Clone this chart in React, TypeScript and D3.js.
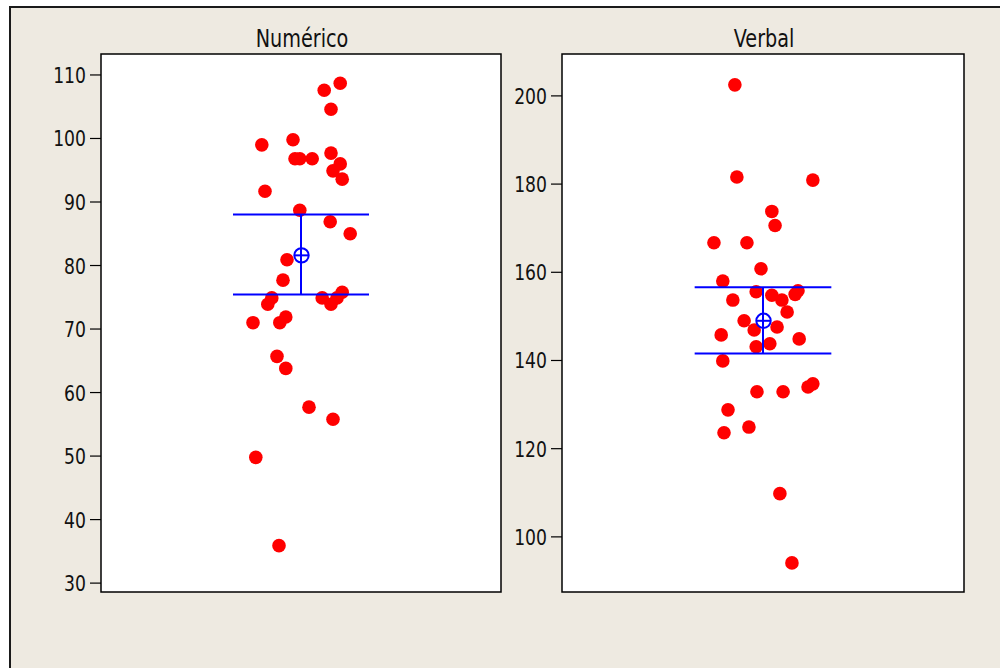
import React, { useEffect, useRef } from 'react';
import * as d3 from 'd3';

// Individual value plot with 95% CI for the mean (Minitab style)
const panelTitles = ['Numérico', 'Verbal'];

const numericoValues = [
  108.7, 107.6, 104.6, 99.0, 99.8, 97.7, 96.8, 96.8, 96.8, 96.0, 94.9,
  93.6, 91.7, 88.7, 86.9, 85.0, 80.9, 77.7, 75.8, 74.9, 73.9, 74.9,
  74.9, 73.9, 71.9, 71.0, 71.0, 65.7, 63.8, 57.7, 55.8, 49.8, 35.9,
];
const numericoJitter = [
  0.098, 0.058, 0.075, -0.098, -0.02, 0.075, -0.015, -0.003, 0.028, 0.098, 0.08,
  0.103, -0.09, -0.003, 0.073, 0.123, -0.035, -0.045, 0.103, -0.073, -0.083, 0.053,
  0.09, 0.075, -0.038, -0.053, -0.12, -0.06, -0.038, 0.02, 0.08, -0.113, -0.055,
];

const verbalValues = [
  202.5, 181.6, 180.9, 173.8, 170.6, 166.7, 166.7, 160.8, 158.0, 155.6, 155.8,
  155.0, 153.7, 154.8, 153.7, 151.0, 149.0, 146.9, 147.6, 145.8, 144.9, 143.1,
  143.8, 139.9, 132.9, 132.9, 134.0, 134.7, 128.8, 123.6, 124.9, 109.8, 94.1,
];
const verbalJitter = [
  -0.07, -0.065, 0.124, 0.022, 0.03, -0.122, -0.04, -0.005, -0.1, -0.017, 0.087,
  0.08, -0.075, 0.022, 0.047, 0.06, -0.047, -0.022, 0.035, -0.104, 0.09, -0.017,
  0.017, -0.1, -0.015, 0.05, 0.112, 0.124, -0.087, -0.097, -0.035, 0.042, 0.072,
];

const numericoTicks = [30, 40, 50, 60, 70, 80, 90, 100, 110];
const verbalTicks = [100, 120, 140, 160, 180, 200];

const numericoDomain = [28.6, 113.3];
const verbalDomain = [87.5, 209.5];

// mean, lower, upper of the 95% CI
const numericoInterval = [81.6, 75.45, 88.05];
const verbalInterval = [149.0, 141.6, 156.6];

const App = () => {
  const ref = useRef<SVGSVGElement>(null);

  useEffect(() => {
    if (!ref.current) return;
    const svg = d3.select(ref.current);
    svg.selectAll('*').remove();

    const W = 1000;
    const H = 668;
    const top = 54;
    const bottom = 592;
    const font = '"DejaVu Sans", Verdana, sans-serif';
    const squeeze = 0.8;

    // beige background frame
    svg.append('rect').attr('x', 0).attr('y', 0).attr('width', W).attr('height', H).attr('fill', '#ffffff');
    svg.append('rect')
      .attr('x', 10).attr('y', 7).attr('width', W + 20).attr('height', H + 20)
      .attr('fill', '#eeeae1').attr('stroke', '#1a1a1a').attr('stroke-width', 2);

    const panels = [
      { left: 101, right: 501, values: numericoValues, jitter: numericoJitter, ticks: numericoTicks, domain: numericoDomain, ci: numericoInterval },
      { left: 562, right: 964, values: verbalValues, jitter: verbalJitter, ticks: verbalTicks, domain: verbalDomain, ci: verbalInterval },
    ];

    panels.forEach((p, k) => {
      const x = d3.scaleLinear().domain([0.5, 1.5]).range([p.left, p.right]);
      const y = d3.scaleLinear().domain(p.domain).range([bottom, top]);
      const g = svg.append('g');

      g.append('rect')
        .attr('x', p.left).attr('y', top)
        .attr('width', p.right - p.left).attr('height', bottom - top)
        .attr('fill', '#ffffff').attr('stroke', '#000').attr('stroke-width', 1.5);

      // title
      g.append('text')
        .attr('transform', `translate(${x(1) + 1},46.5) scale(${squeeze},1)`)
        .attr('text-anchor', 'middle')
        .attr('fill', '#111')
        .style('font-family', font)
        .style('font-size', '24px')
        .text(panelTitles[k]);

      // y axis ticks
      p.ticks.forEach((t) => {
        g.append('line')
          .attr('x1', p.left - 11).attr('x2', p.left)
          .attr('y1', y(t)).attr('y2', y(t))
          .attr('stroke', '#000').attr('stroke-width', 1.2);
        g.append('text')
          .attr('transform', `translate(${p.left - 15},${y(t) + 8}) scale(${squeeze},1)`)
          .attr('text-anchor', 'end')
          .attr('fill', '#111')
          .style('font-family', font)
          .style('font-size', '21.5px')
          .text(t);
      });

      // individual values
      g.selectAll('circle.pt')
        .data(p.values)
        .enter()
        .append('circle')
        .attr('class', 'pt')
        .attr('cx', (d, i) => x(1 + p.jitter[i]))
        .attr('cy', (d) => y(d))
        .attr('r', 6.8)
        .attr('fill', '#ff0000');

      // confidence interval
      const [mean, lo, hi] = p.ci;
      const half = 0.17;
      const blue = '#0000ff';
      [lo, hi].forEach((v) => {
        g.append('line')
          .attr('x1', x(1 - half)).attr('x2', x(1 + half))
          .attr('y1', y(v)).attr('y2', y(v))
          .attr('stroke', blue).attr('stroke-width', 2);
      });
      g.append('line')
        .attr('x1', x(1)).attr('x2', x(1))
        .attr('y1', y(lo)).attr('y2', y(hi))
        .attr('stroke', blue).attr('stroke-width', 2);
      g.append('circle')
        .attr('cx', x(1) + 0.5).attr('cy', y(mean)).attr('r', 7.2)
        .attr('fill', 'none').attr('stroke', blue).attr('stroke-width', 2);
      g.append('line')
        .attr('x1', x(1) - 7).attr('x2', x(1) + 8)
        .attr('y1', y(mean)).attr('y2', y(mean))
        .attr('stroke', blue).attr('stroke-width', 2);
    });
  }, []);

  return (
    <svg
      ref={ref}
      width={1000}
      height={668}
      style={{ position: 'fixed', left: 0, top: 0, display: 'block' }}
    />
  );
};

export default App;
